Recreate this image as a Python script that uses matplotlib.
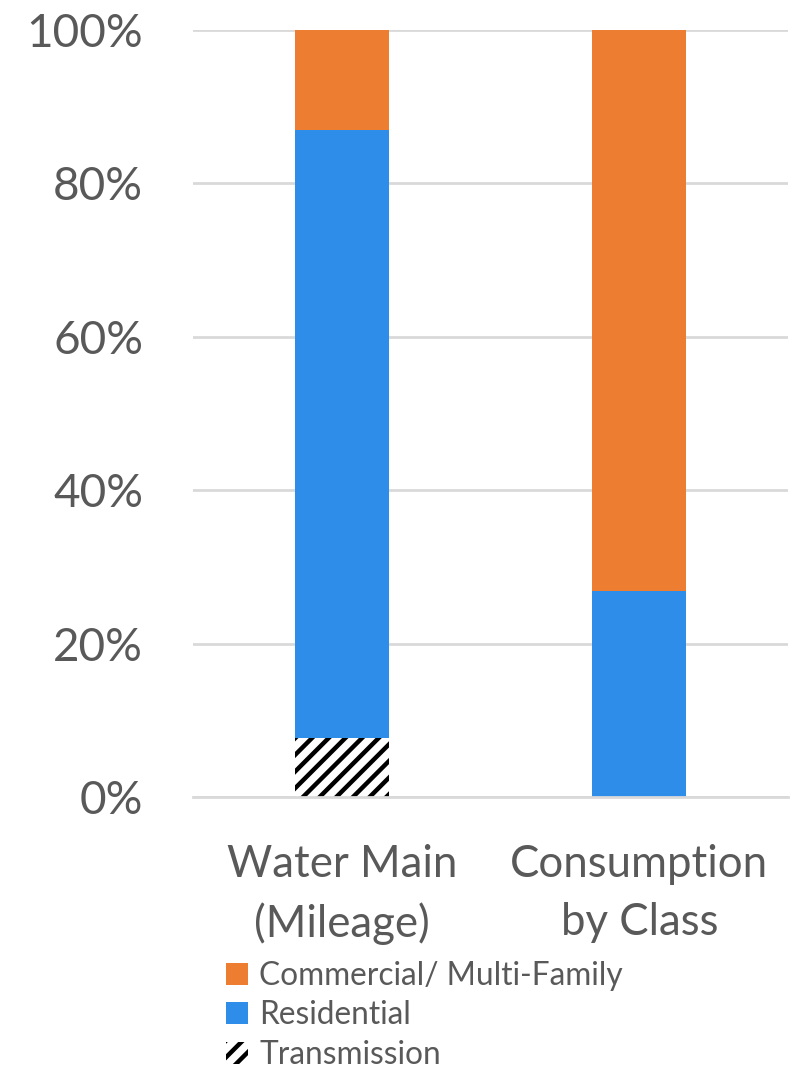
import numpy as np
import matplotlib.pyplot as plt
from matplotlib.patches import Patch

plt.rcParams['font.family'] = ['Lato', 'DejaVu Sans']
plt.rcParams['hatch.linewidth'] = 3.2

categories = ["Water Main\n(Mileage)", "Consumption\nby Class"]
transmission = [7.7, 0.0]
residential = [79.3, 26.9]
commercial = [13.0, 73.1]

ORANGE = "#ED7D31"
BLUE = "#2E8DE8"
TXT = "#595959"

fig = plt.figure(figsize=(7.98, 10.70), dpi=100)
ax = fig.add_axes([0.2419, 0.2551, 0.7456, 0.7169])

x = np.arange(len(categories))
w = 0.315
ax.bar(x, transmission, w, color="white", edgecolor="black", hatch="//", linewidth=0, label="Transmission")
ax.bar(x, residential, w, bottom=transmission, color=BLUE, label="Residential")
bottom2 = np.array(transmission) + np.array(residential)
ax.bar(x, commercial, w, bottom=bottom2, color=ORANGE, label="Commercial/ Multi-Family")

ax.set_xlim(-0.5, 1.5)
ax.set_ylim(0, 100)
ax.set_yticks(np.arange(0, 101, 20))
ax.set_yticklabels([f"{v}%" for v in range(0, 101, 20)])
ax.yaxis.grid(True, color="#d9d9d9", linewidth=2)
ax.set_axisbelow(True)
for s in ["top", "right", "left"]:
    ax.spines[s].set_visible(False)
ax.spines["bottom"].set_color("#d9d9d9")
ax.spines["bottom"].set_linewidth(2)
ax.tick_params(axis="both", length=0, colors=TXT)
ax.tick_params(axis="y", labelsize=33, pad=36)
ax.set_xticks(x)
ax.set_xticklabels(categories, linespacing=1.5)
ax.tick_params(axis="x", labelsize=31.5, pad=34)

handles = [
    Patch(facecolor=ORANGE, label="Commercial/ Multi-Family"),
    Patch(facecolor=BLUE, label="Residential"),
    Patch(facecolor="white", edgecolor="black", hatch="//", linewidth=0, label="Transmission"),
]
fig.legend(handles=handles, loc="upper left", bbox_to_anchor=(0.283, 0.102), frameon=False,
           fontsize=22.8, labelcolor=TXT, handlelength=0.7, handleheight=0.7,
           handletextpad=0.35, labelspacing=0.3, borderaxespad=0, borderpad=0)

fig.savefig("out.png", dpi=100)
